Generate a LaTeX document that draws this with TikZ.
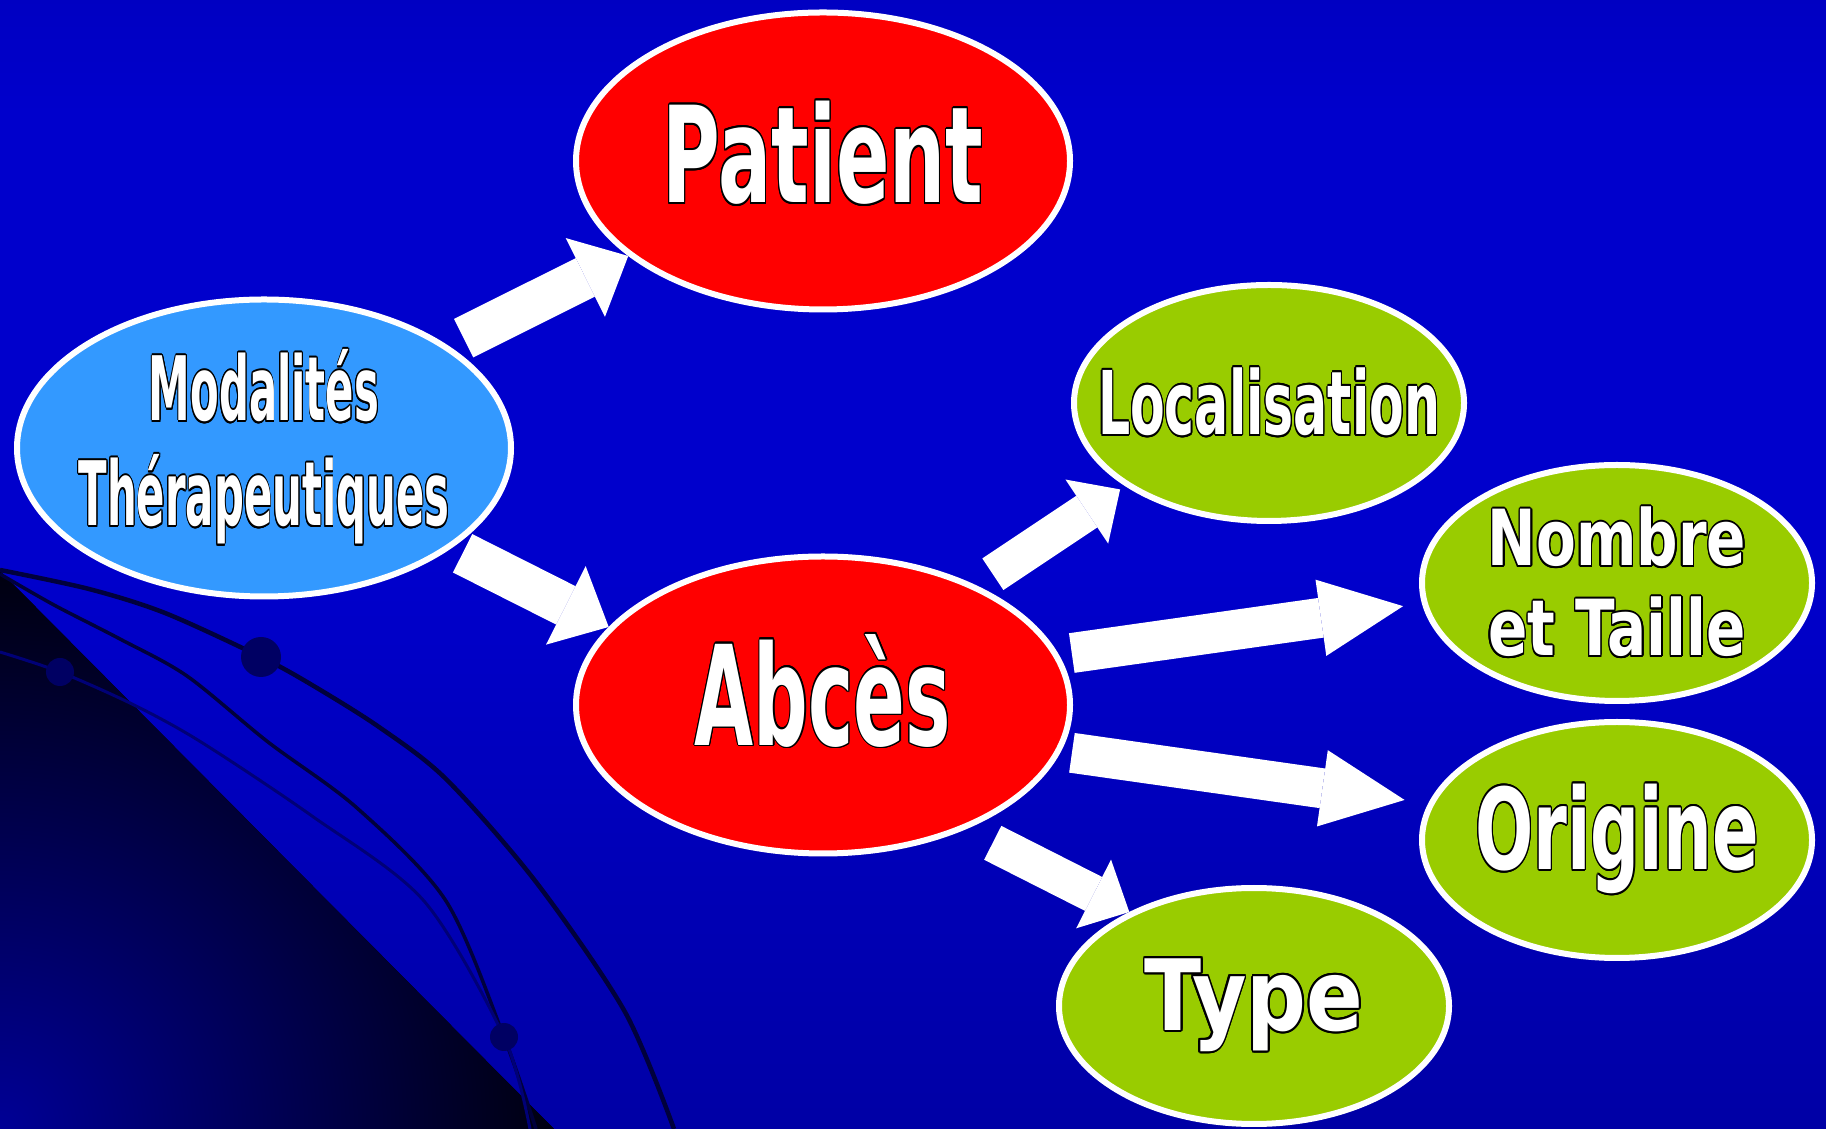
\documentclass[tikz,border=0pt]{standalone}
\usepackage{fontspec}
\usepackage{contour}
\setmainfont{DejaVu Sans}
\usetikzlibrary{arrows.meta}
\usetikzlibrary{shapes.geometric}

\definecolor{fondhaut}{RGB}{0,0,145}
\definecolor{fondmil}{RGB}{0,0,204}
\definecolor{fondbas}{RGB}{0,0,110}
\definecolor{fondinter}{RGB}{0,0,165}
\definecolor{coin}{RGB}{0,0,150}
\definecolor{rouge}{RGB}{255,0,0}
\definecolor{ciel}{RGB}{51,153,255}
\definecolor{vert}{RGB}{153,204,0}
\definecolor{fil}{RGB}{0,0,60}

\pgfdeclareverticalshading{fond}{100bp}{color(0bp)=(fondbas); color(25bp)=(fondinter); color(50bp)=(fondmil); color(70bp)=(fondmil); color(100bp)=(fondhaut)}

\contourlength{0.55pt}
\newcommand{\mot}[2]{\makebox[0pt]{\scalebox{#1}[1]{\contour{black}{#2}}}}

\tikzset{
    bulle/.style={ellipse, draw=white, line width=0.6mm, inner sep=0pt, align=center, text=white},
    grosse/.style={white, line width=4.3mm, -{Triangle[length=4.8mm,width=8.8mm,line width=0pt]}},
    moyenne/.style={white, line width=3.8mm, -{Triangle[length=4mm,width=7.7mm,line width=0pt]}},
    longue/.style={white, line width=4mm, -{Triangle[length=8.3mm,width=7.7mm,line width=0pt]}},
}

\begin{document}
\begin{tikzpicture}[x=0.1mm,y=-0.1mm]
            \useasboundingbox (0,0) rectangle (1826,1129);
            \shade[shading=fond] (0,0) rectangle (1826,1129);

            % coin sombre en bas a gauche
            \begin{scope}
                \clip (0,571)--(554,1129)--(0,1129)--cycle;
                \fill[black] (0,571) rectangle (554,1129);
                \shade[inner color=coin, outer color=black] (0,1129) circle (620);
            \end{scope}
            \draw[fil, line width=0.45mm] plot[smooth] coordinates {(0,570) (89,589) (165,613) (261,657) (312,685) (379,727) (446,779) (536,882) (625,1012) (674,1129)};
            \draw[fil, line width=0.35mm] plot[smooth] coordinates {(0,574) (54,605) (120,639) (187,676) (268,742) (357,808) (446,901) (504,1037) (536,1129)};
            \draw[fil!70!blue, line width=0.3mm] plot[smooth] coordinates {(0,652) (60,672) (134,705) (201,742) (312,816) (424,901) (504,1037) (530,1129)};
            \foreach \x/\y/\r in {261/657/20, 60/672/14, 504/1037/14}{
                \fill[fil!80!blue] (\x,\y) circle (\r);
            }

            \node[bulle, fill=ciel, minimum width=49.4mm, minimum height=29.7mm, font=\fontsize{25.3}{29.9}\selectfont\bfseries] (mod) at (264,448) {\mot{0.47}{Modalités}\\\mot{0.47}{Thérapeutiques}};
            \node[bulle, fill=rouge, minimum width=49.4mm, minimum height=29.7mm, text depth=1.8mm, font=\fontsize{38}{38}\selectfont\bfseries] (pat) at (823,161) {\mot{0.59}{Patient}};
            \node[bulle, fill=rouge, minimum width=49.4mm, minimum height=29.7mm, text depth=3.1mm, font=\fontsize{39.5}{39.5}\selectfont\bfseries] (abc) at (823,705) {\mot{0.55}{Abcès}};
            \node[bulle, fill=vert, minimum width=39mm, minimum height=23.6mm, font=\fontsize{25}{25}\selectfont\bfseries] (loc) at (1269,403) {\mot{0.575}{Localisation}};
            \node[bulle, fill=vert, minimum width=39mm, minimum height=23.6mm, font=\fontsize{22}{25.6}\selectfont\bfseries] (nom) at (1617,583) {\mot{0.75}{Nombre}\\\mot{0.75}{et Taille}};
            \node[bulle, fill=vert, minimum width=39mm, minimum height=23.6mm, font=\fontsize{32}{32}\selectfont\bfseries] (ori) at (1617,840) {\mot{0.61}{Origine}};
            \node[bulle, fill=vert, minimum width=39mm, minimum height=23.6mm, font=\fontsize{28}{28}\selectfont\bfseries] (typ) at (1254,1006) {\mot{0.85}{Type}};

            \draw[grosse, shorten <=1.7mm] (mod.29) -- (pat.206);
            \draw[grosse, shorten <=1.2mm] (mod.-28) -- (abc.160);
            \draw[moyenne, shorten <=2mm, shorten >=0.6mm] (abc.38) -- (loc.210);
            \draw[longue, shorten <=1.3mm, shorten >=1.9mm] (abc.12) -- (nom.186);
            \draw[longue, shorten <=1.1mm, shorten >=2.4mm] (abc.-11) -- (ori.169);
            \draw[moyenne, shorten <=3mm] (abc.-41) -- (typ.143);

        \end{tikzpicture}
\end{document}
